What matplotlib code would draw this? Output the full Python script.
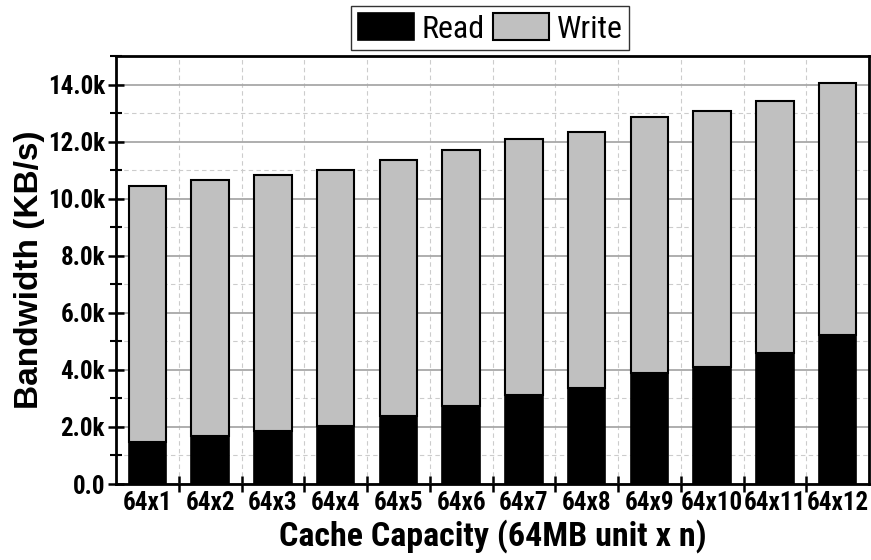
import matplotlib
matplotlib.use("Agg")
import matplotlib.pyplot as plt
import numpy as np
from matplotlib import font_manager
from matplotlib.ticker import MultipleLocator, FixedLocator, FuncFormatter

# data (KB/s)
labels = ["64x1", "64x2", "64x3", "64x4", "64x5", "64x6",
          "64x7", "64x8", "64x9", "64x10", "64x11", "64x12"]
read = [1480, 1690, 1870, 2030, 2380, 2730, 3120, 3350, 3900, 4110, 4590, 5210]
total = [10450, 10660, 10840, 11000, 11350, 11720, 12080, 12330, 12850, 13080, 13440, 14060]
write = [t - r for t, r in zip(total, read)]

# pick a condensed face if one is around (reference uses Arial Narrow look)
have = {f.name for f in font_manager.fontManager.ttflist}
narrow_font = "Liberation Sans"
for cand in ["Liberation Sans Narrow", "Arial Narrow", "Roboto Condensed",
             "Archivo Narrow", "PT Sans Narrow", "Open Sans Condensed"]:
    if cand in have:
        narrow_font = cand
        break
narrow = [narrow_font, "DejaVu Sans"]
k = 1.0 if narrow_font != "Liberation Sans" else 0.82   # shrink if no narrow face

fig = plt.figure(figsize=(8.71, 5.60), dpi=100)
ax = fig.add_axes([0.1332, 0.1357, 0.8645, 0.7643])

x = np.arange(len(labels))
ax.bar(x, read, width=0.6, color="black", edgecolor="black", linewidth=1.2,
       label="Read", zorder=3)
ax.bar(x, write, width=0.6, bottom=read, color="#c0c0c0", edgecolor="black",
       linewidth=1.5, label="Write", zorder=3)

ax.set_xlim(-0.5, len(labels) - 0.5)
ax.set_ylim(0, 15000)

# y axis: majors every 2k, minors every 1k
ax.yaxis.set_major_locator(MultipleLocator(2000))
ax.yaxis.set_minor_locator(MultipleLocator(1000))
ax.yaxis.set_major_formatter(FuncFormatter(lambda v, p: "0.0" if v == 0 else f"{v/1000:.1f}k"))
ax.grid(axis="y", which="major", color="#a8a8a8", linewidth=1.3, zorder=0)
ax.grid(axis="y", which="minor", color="#cccccc", linewidth=0.8, linestyle=(0, (4, 3)), zorder=0)

# x axis: ticks on bar boundaries, labels on bar centres
ax.xaxis.set_major_locator(FixedLocator(np.arange(0.5, len(labels) - 0.5, 1)))
ax.xaxis.set_major_formatter(FuncFormatter(lambda v, p: ""))
ax.xaxis.set_minor_locator(FixedLocator(x))
ax.set_xticklabels(labels, minor=True)
ax.grid(axis="x", which="major", color="#cccccc", linewidth=0.8, linestyle=(0, (4, 3)), zorder=0)

ax.tick_params(axis="both", which="major", direction="inout", length=12, width=1.8)
ax.tick_params(axis="y", which="minor", direction="inout", length=8, width=1.5)
ax.tick_params(axis="x", which="minor", length=0, pad=5)
ax.tick_params(axis="y", which="major", pad=2)

for lab in ax.get_xticklabels(minor=True) + ax.get_yticklabels():
    lab.set_family(narrow)
    lab.set_fontweight("bold")
    lab.set_fontsize(18 * k)

for s in ax.spines.values():
    s.set_linewidth(2)

ax.set_xlabel("Cache Capacity (64MB unit x n)", family=narrow, fontweight="bold",
              fontsize=24.5 * k, labelpad=3)
ax.set_ylabel("Bandwidth (KB/s)", family=["Liberation Sans", "DejaVu Sans"],
              fontweight="bold", fontsize=24, labelpad=2)

leg = ax.legend(loc="lower center", bbox_to_anchor=(0.497, 1.014), ncol=2,
                borderaxespad=0, frameon=True, fancybox=False, edgecolor="black",
                borderpad=0.2, handlelength=1.75, handleheight=0.95,
                handletextpad=0.25, columnspacing=0.25,
                prop={"family": narrow, "size": 23 * k})
leg.get_frame().set_linewidth(1.0)

fig.savefig("out.png", dpi=100)
